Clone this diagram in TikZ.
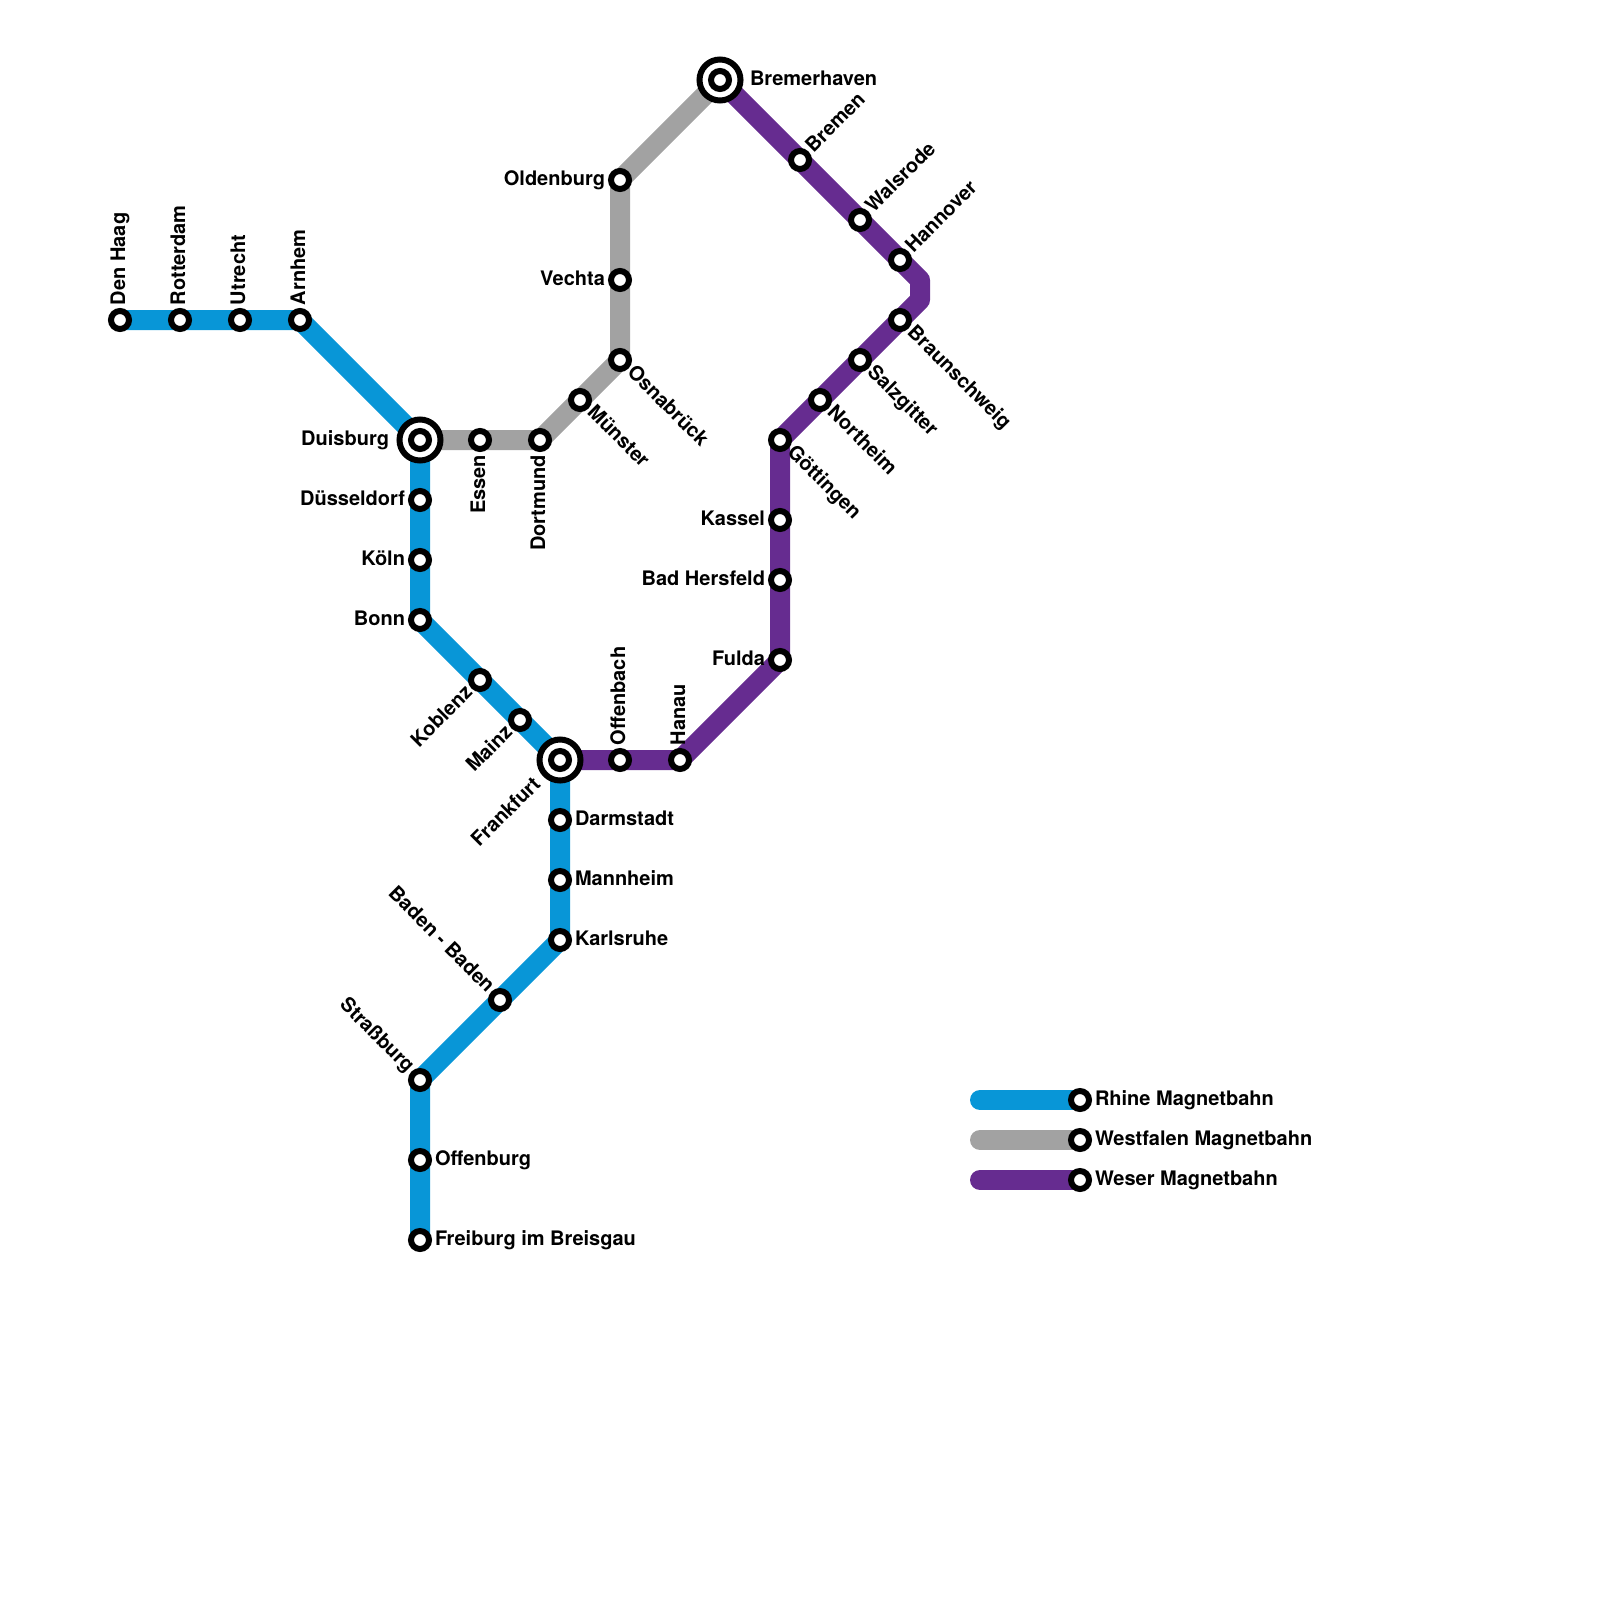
\documentclass[tikz,border=0pt]{standalone}
\usepackage{fontspec}
\setmainfont{TeX Gyre Heros}
\usetikzlibrary{backgrounds}
\definecolor{rhine}{HTML}{0896D7}
\definecolor{westf}{HTML}{A2A2A2}
\definecolor{weser}{HTML}{662C90}
\tikzset{
  st/.style={circle,draw=black,fill=white,line width=6pt,minimum size=18pt,inner sep=0pt},
  ring/.style={circle,draw=black,fill=white,line width=6pt,minimum size=41pt,inner sep=0pt},
  rail/.style={line width=20pt,line join=round,line cap=butt},
  legrail/.style={line width=20pt,line cap=round},
  lbl/.style={font=\fontsize{20pt}{20pt}\selectfont\bfseries,text height=14pt,text depth=4pt,inner sep=0pt,outer sep=0pt,text=black},
  lE/.style={lbl,anchor=west,xshift=15pt},
  lW/.style={lbl,anchor=east,xshift=-15pt},
  lN/.style={lbl,anchor=west,yshift=15pt,rotate=90},
  lS/.style={lbl,anchor=east,yshift=-15pt,rotate=90},
  lNE/.style={lbl,anchor=west,xshift=10pt,yshift=10pt,rotate=45},
  lSE/.style={lbl,anchor=west,xshift=10pt,yshift=-10pt,rotate=-45},
  lSW/.style={lbl,anchor=east,xshift=-10pt,yshift=-10pt,rotate=45},
  lSWfar/.style={lbl,anchor=east,xshift=-22pt,yshift=-22pt,rotate=45},
  lNW/.style={lbl,anchor=east,xshift=-10pt,yshift=10pt,rotate=-45},
}
\begin{document}
\begin{tikzpicture}[x=1pt,y=-1pt]
\useasboundingbox (0,0) rectangle (1600,1600);
% interchange rings
\node[ring] (duiR) at (420,440) {};
\node[ring] (fraR) at (560,760) {};
\node[ring] (breR) at (720,80) {};
% stations
\node[st] (den) at (120,320) {};
\node[st] (rot) at (180,320) {};
\node[st] (utr) at (240,320) {};
\node[st] (arn) at (300,320) {};
\node[st] (dui) at (420,440) {};
\node[st] (dus) at (420,500) {};
\node[st] (kol) at (420,560) {};
\node[st] (bon) at (420,620) {};
\node[st] (kob) at (480,680) {};
\node[st] (mai) at (520,720) {};
\node[st] (fra) at (560,760) {};
\node[st] (dar) at (560,820) {};
\node[st] (man) at (560,880) {};
\node[st] (kar) at (560,940) {};
\node[st] (bad) at (500,1000) {};
\node[st] (str) at (420,1080) {};
\node[st] (off) at (420,1160) {};
\node[st] (fre) at (420,1240) {};
\node[st] (ess) at (480,440) {};
\node[st] (dor) at (540,440) {};
\node[st] (mun) at (580,400) {};
\node[st] (osn) at (620,360) {};
\node[st] (vec) at (620,280) {};
\node[st] (old) at (620,180) {};
\node[st] (bre) at (720,80) {};
\node[st] (ofb) at (620,760) {};
\node[st] (han) at (680,760) {};
\node[st] (ful) at (780,660) {};
\node[st] (her) at (780,580) {};
\node[st] (kas) at (780,520) {};
\node[st] (got) at (780,440) {};
\node[st] (nor) at (820,400) {};
\node[st] (sal) at (860,360) {};
\node[st] (bra) at (900,320) {};
\node[st] (hnv) at (900,260) {};
\node[st] (wal) at (860,220) {};
\node[st] (brm) at (800,160) {};
\node[st] (legA) at (1080,1100) {};
\node[st] (legB) at (1080,1140) {};
\node[st] (legC) at (1080,1180) {};
\coordinate (bendA) at (920,300);
\coordinate (bendB) at (920,280);
\coordinate (legAs) at (980,1100);
\coordinate (legBs) at (980,1140);
\coordinate (legCs) at (980,1180);
% lines
\begin{scope}[on background layer]
\draw[rail,rhine] (den.center) -- (arn.center) -- (dui.center) -- (bon.center) -- (fra.center) -- (kar.center) -- (str.center) -- (fre.center);
\draw[rail,westf] (dui.center) -- (dor.center) -- (osn.center) -- (old.center) -- (bre.center);
\draw[rail,weser] (fra.center) -- (han.center) -- (ful.center) -- (got.center) -- (bendA) -- (bendB) -- (bre.center);
\draw[legrail,rhine] (legAs) -- (legA.center);
\draw[legrail,westf] (legBs) -- (legB.center);
\draw[legrail,weser] (legCs) -- (legC.center);
\end{scope}
% labels
\node[lN] (tden) at (den) {Den Haag};
\node[lN] (trot) at (rot) {Rotterdam};
\node[lN] (tutr) at (utr) {Utrecht};
\node[lN] (tarn) at (arn) {Arnhem};
\node[lW,xshift=-16pt] (tdui) at (dui) {Duisburg};
\node[lW] (tdus) at (dus) {Düsseldorf};
\node[lW] (tkol) at (kol) {Köln};
\node[lW] (tbon) at (bon) {Bonn};
\node[lSW] (tkob) at (kob) {Koblenz};
\node[lSW] (tmai) at (mai) {Mainz};
\node[lSWfar] (tfra) at (fra) {Frankfurt};
\node[lE] (tdar) at (dar) {Darmstadt};
\node[lE] (tman) at (man) {Mannheim};
\node[lE] (tkar) at (kar) {Karlsruhe};
\node[lNW] (tbad) at (bad) {Baden - Baden};
\node[lNW] (tstr) at (str) {Straßburg};
\node[lE] (toff) at (off) {Offenburg};
\node[lE] (tfre) at (fre) {Freiburg im Breisgau};
\node[lS] (tess) at (ess) {Essen};
\node[lS] (tdor) at (dor) {Dortmund};
\node[lSE] (tmun) at (mun) {Münster};
\node[lSE] (tosn) at (osn) {Osnabrück};
\node[lW] (tvec) at (vec) {Vechta};
\node[lW] (told) at (old) {Oldenburg};
\node[lE,xshift=15pt,yshift=-0.5pt] (tbre) at (bre) {Bremerhaven};
\node[lN] (tofb) at (ofb) {Offenbach};
\node[lN] (than) at (han) {Hanau};
\node[lW] (tful) at (ful) {Fulda};
\node[lW] (ther) at (her) {Bad Hersfeld};
\node[lW] (tkas) at (kas) {Kassel};
\node[lSE] (tgot) at (got) {Göttingen};
\node[lSE] (tnor) at (nor) {Northeim};
\node[lSE] (tsal) at (sal) {Salzgitter};
\node[lSE] (tbra) at (bra) {Braunschweig};
\node[lNE] (thnv) at (hnv) {Hannover};
\node[lNE] (twal) at (wal) {Walsrode};
\node[lNE] (tbrm) at (brm) {Bremen};
\node[lE] (tlegA) at (legA) {Rhine Magnetbahn};
\node[lE] (tlegB) at (legB) {Westfalen Magnetbahn};
\node[lE] (tlegC) at (legC) {Weser Magnetbahn};
\end{tikzpicture}
\end{document}
